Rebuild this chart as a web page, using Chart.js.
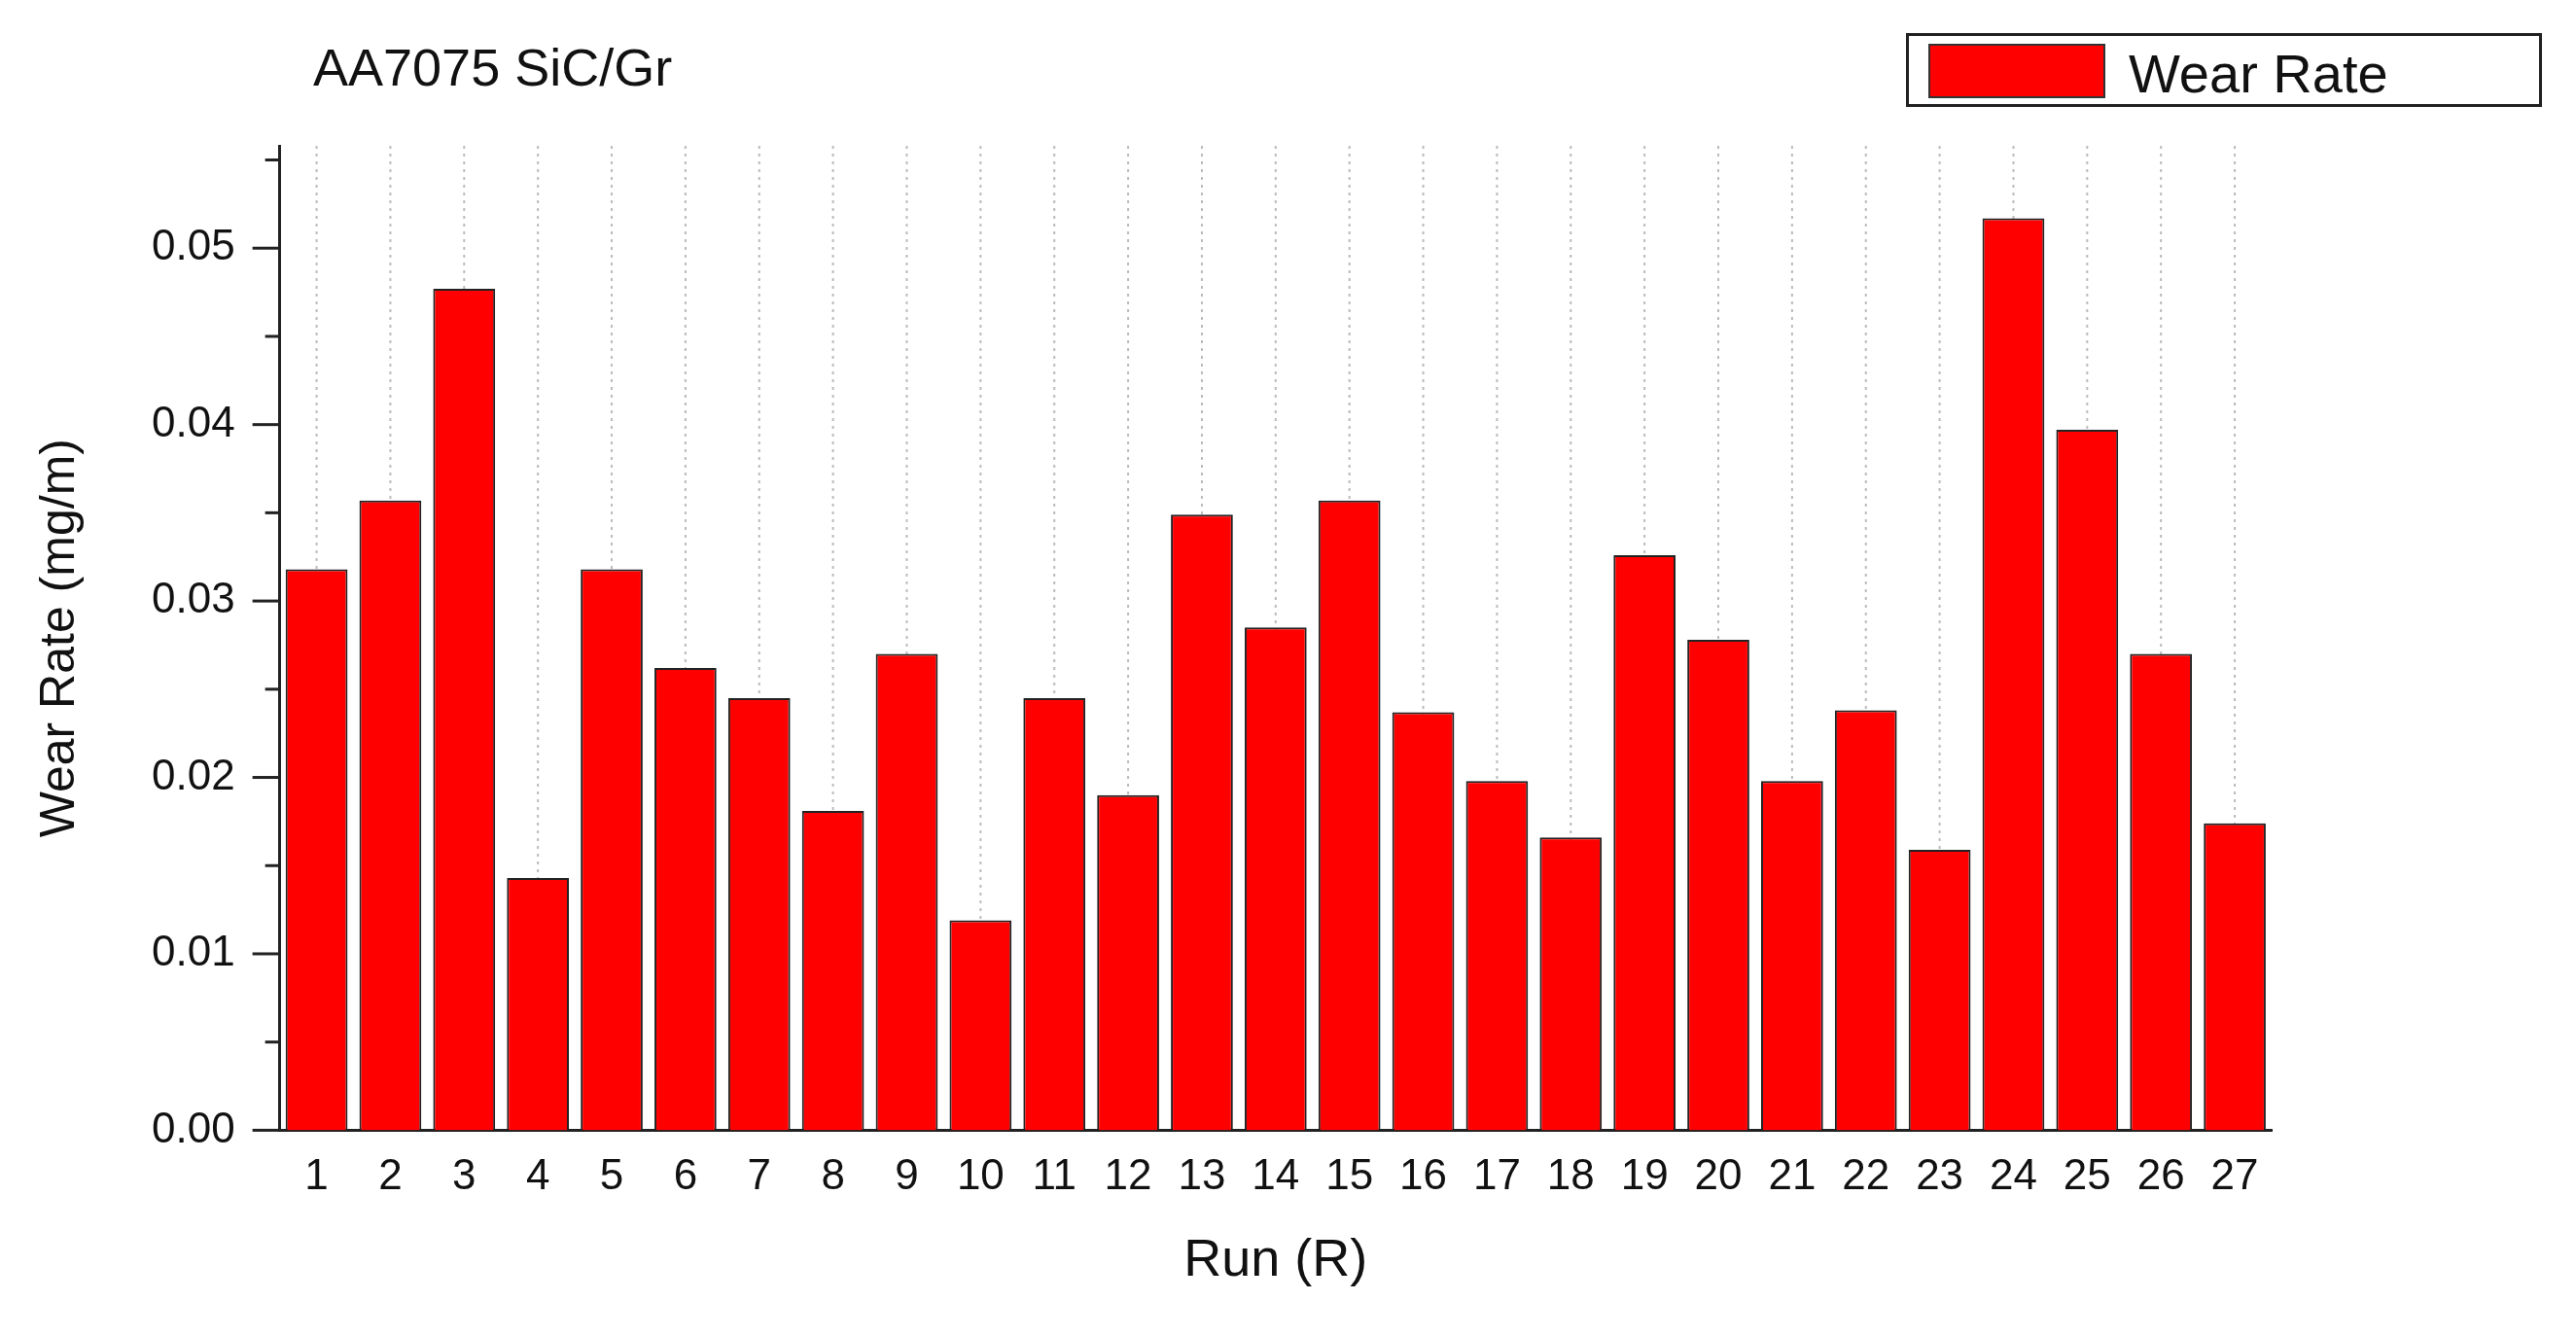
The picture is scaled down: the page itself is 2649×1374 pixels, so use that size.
<!DOCTYPE html>
<html><head><meta charset="utf-8">
<script src="https://cdn.jsdelivr.net/npm/chart.js@4/dist/chart.umd.min.js"></script>
<style>
body{margin:0;background:#fff;font-family:"Liberation Sans",Arial,sans-serif}
#wrap{position:absolute;left:0;top:0;width:2649px;height:1374px}
#ttl{position:absolute;left:322px;top:38px;font-size:54px;color:#111}
#leg{position:absolute;left:1960px;top:34px;width:654px;height:76px;border:3px solid #222;box-sizing:border-box}
#leg .sw{position:absolute;left:20px;top:8px;width:182px;height:56px;background:#f00;border:2px solid #333;box-sizing:border-box}
#leg .tx{position:absolute;left:226px;top:6px;font-size:56px;color:#111}
</style></head>
<body>
<div id="wrap"><canvas id="c" width="2649" height="1374"></canvas></div>
<div id="ttl">AA7075 SiC/Gr</div>
<div id="leg"><div class="sw"></div><div class="tx">Wear Rate</div></div>
<script>
let runs=['1','2','3','4','5','6','7','8','9','10','11','12','13','14','15','16','17','18','19','20','21','22','23','24','25','26','27']
let wearRate=[0.0318,0.0357,0.0477,0.0143,0.0318,0.0262,0.0245,0.0181,0.0270,0.0119,0.0245,0.0190,0.0349,0.0285,0.0357,0.0237,0.0198,0.0166,0.0326,0.0278,0.0198,0.0238,0.0159,0.0517,0.0397,0.0270,0.0174]
let yTicks=[0,0.01,0.02,0.03,0.04,0.05]

const ctx=document.getElementById('c')
new Chart(ctx,{
  type:'bar',
  data:{labels:runs,datasets:[{label:'Wear Rate',data:wearRate,backgroundColor:'#ff0000',borderColor:'#222',borderWidth:2,barPercentage:0.84,categoryPercentage:1}]},
  options:{
    responsive:false,animation:false,
    layout:{padding:{left:28,right:313,top:150,bottom:40}},
    plugins:{legend:{display:false},tooltip:{enabled:false}},
    scales:{
      x:{
        grid:{display:false},
        border:{display:true,color:'#222',width:3},
        ticks:{color:'#111',font:{size:44,family:'Liberation Sans'},padding:14,maxRotation:0,autoSkip:false},
        title:{display:true,text:'Run (R)',color:'#111',font:{size:54,family:'Liberation Sans'},padding:{top:14}}
      },
      y:{
        min:0,max:0.0558,
        afterBuildTicks:(ax)=>{ax.ticks=yTicks.map(v=>({value:v}))},
        grid:{display:false},
        border:{display:true,color:'#222',width:3},
        ticks:{color:'#111',font:{size:44,family:'Liberation Sans'},padding:38,callback:v=>v.toFixed(2)},
        title:{display:true,text:'Wear Rate (mg/m)',color:'#111',font:{size:50,family:'Liberation Sans'},padding:{bottom:26}}
      }
    }
  },
  plugins:[{id:'dots',beforeDatasetsDraw(ch){
    const c=ch.ctx,a=ch.chartArea,x=ch.scales.x,y=ch.scales.y
    c.save();c.strokeStyle='#bbb';c.lineWidth=2;c.setLineDash([3,5])
    runs.forEach((r,i)=>{const px=x.getPixelForValue(i);c.beginPath();c.moveTo(px,a.top);c.lineTo(px,a.bottom);c.stroke()})
    c.setLineDash([]);c.strokeStyle='#222';c.lineWidth=3
    for(let v=0;v<=0.0555;v+=0.005){
      const py=y.getPixelForValue(v),major=Math.abs(v*100-Math.round(v*100))<1e-6
      c.beginPath();c.moveTo(a.left,py);c.lineTo(a.left-(major?28:15),py);c.stroke()
    }
    c.restore()
  }}]
})
</script>
</body></html>
